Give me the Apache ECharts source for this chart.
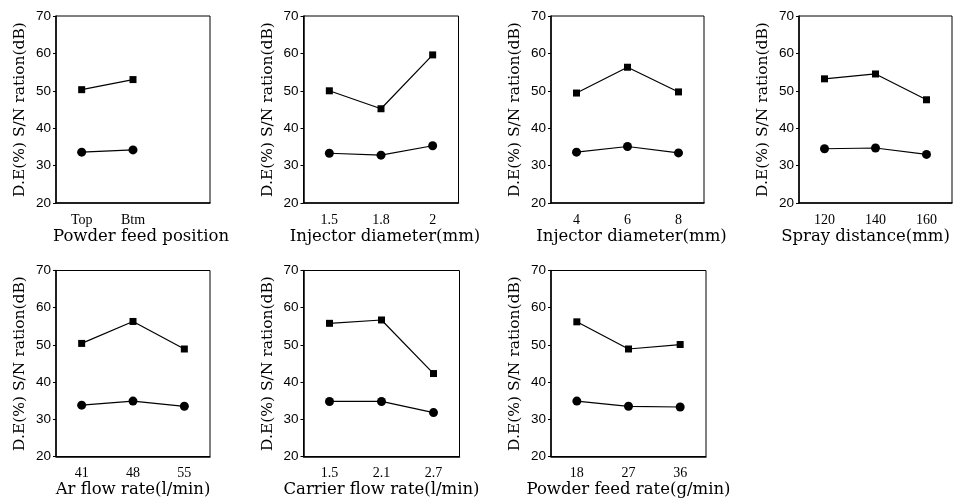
<!DOCTYPE html>
<html>
<head>
<meta charset="utf-8">
<script src="https://cdn.jsdelivr.net/npm/echarts@6/dist/echarts.min.js"></script>
<style>
  html, body { margin: 0; padding: 0; background: #fff; }
  #main { width: 953px; height: 503px; }
</style>
</head>
<body>
<div id="main"></div>
<script>
// 数据
var cats1 = ['Top', 'Btm', ''];
var sq1 = [50.3, 53.0];
var ci1 = [33.6, 34.2];

var cats2 = ['1.5', '1.8', '2'];
var sq2 = [50.0, 45.2, 59.6];
var ci2 = [33.3, 32.8, 35.3];

var cats3 = ['4', '6', '8'];
var sq3 = [49.4, 56.3, 49.7];
var ci3 = [33.6, 35.1, 33.4];

var cats4 = ['120', '140', '160'];
var sq4 = [53.2, 54.5, 47.6];
var ci4 = [34.5, 34.7, 33.0];

var cats5 = ['41', '48', '55'];
var sq5 = [50.4, 56.3, 48.9];
var ci5 = [33.8, 34.9, 33.5];

var cats6 = ['1.5', '2.1', '2.7'];
var sq6 = [55.8, 56.7, 42.3];
var ci6 = [34.8, 34.8, 31.8];

var cats7 = ['18', '27', '36'];
var sq7 = [56.2, 48.9, 50.1];
var ci7 = [34.9, 33.5, 33.3];

var xNames = ['Powder feed position', 'Injector diameter(mm)', 'Injector diameter(mm)',
  'Spray distance(mm)', 'Ar flow rate(l/min)', 'Carrier flow rate(l/min)', 'Powder feed rate(g/min)'];
var yName = 'D.E(%) S/N ration(dB)';
var yTicks = [20, 70, 10]; // min, max, interval

window.onload = function () {
  var myChart = echarts.init(document.getElementById('main'));
  var serif = 'DejaVu Serif';

  // 每个小图的位置 (shift: x轴名称左右偏移)
  var panels = [
    { cats: cats1, sq: sq1, ci: ci1, left: 56, top: 16, width: 154, height: 187, shift: 8 },
    { cats: cats2, sq: sq2, ci: ci2, left: 303.5, top: 16, width: 155, height: 187, shift: 4 },
    { cats: cats3, sq: sq3, ci: ci3, left: 551, top: 16, width: 153, height: 187, shift: 4 },
    { cats: cats4, sq: sq4, ci: ci4, left: 799, top: 16, width: 153, height: 187, shift: -10 },
    { cats: cats5, sq: sq5, ci: ci5, left: 56, top: 270.5, width: 154, height: 186, shift: 0 },
    { cats: cats6, sq: sq6, ci: ci6, left: 303.5, top: 270.5, width: 156, height: 186, shift: 0 },
    { cats: cats7, sq: sq7, ci: ci7, left: 551, top: 270.5, width: 155, height: 186, shift: 0 }
  ];

  var grid = [], xAxis = [], yAxis = [], series = [];
  panels.forEach(function (p, i) {
    grid.push({
      left: p.left, top: p.top, width: p.width, height: p.height,
      outerBoundsMode: 'none', containLabel: false,
      show: true, borderColor: '#000', borderWidth: 1, backgroundColor: 'transparent'
    });
    var pad = p.shift > 0 ? [0, 0, 0, 2 * p.shift] : [0, -2 * p.shift, 0, 0];
    xAxis.push({
      gridIndex: i,
      type: 'category',
      data: p.cats,
      name: xNames[i],
      nameLocation: 'middle',
      nameGap: 24,
      nameTextStyle: { fontFamily: serif, fontSize: 16.5, color: '#000', verticalAlign: 'top', padding: pad },
      axisLine: { lineStyle: { color: '#000', width: 1.5 } },
      axisTick: {
        alignWithLabel: true, length: 4, lineStyle: { color: '#000' },
        interval: function (idx, val) { return val !== ''; }
      },
      axisLabel: { fontFamily: 'Liberation Serif', fontSize: 14, color: '#000', margin: 10 },
      splitLine: { show: false }
    });
    yAxis.push({
      gridIndex: i,
      type: 'value',
      min: yTicks[0], max: yTicks[1], interval: yTicks[2],
      name: yName,
      nameLocation: 'middle',
      nameGap: 28,
      nameTextStyle: { fontFamily: serif, fontSize: 15.5, color: '#000' },
      axisLine: { show: true, lineStyle: { color: '#000', width: 1.5 } },
      axisTick: { show: true, length: 3, lineStyle: { color: '#000' } },
      axisLabel: { fontFamily: 'Liberation Sans', fontSize: 13.5, color: '#000', margin: 5 },
      splitLine: { show: false }
    });
    series.push({
      type: 'line', xAxisIndex: i, yAxisIndex: i, data: p.sq,
      symbol: 'rect', symbolSize: 7, silent: true,
      lineStyle: { color: '#000', width: 1.2 },
      itemStyle: { color: '#000', borderWidth: 0 }
    });
    series.push({
      type: 'line', xAxisIndex: i, yAxisIndex: i, data: p.ci,
      symbol: 'circle', symbolSize: 9, silent: true,
      lineStyle: { color: '#000', width: 1.2 },
      itemStyle: { color: '#000', borderWidth: 0 }
    });
  });

  var option = {
    animation: false,
    backgroundColor: '#fff',
    grid: grid,
    xAxis: xAxis,
    yAxis: yAxis,
    series: series
  };

  myChart.setOption(option);
};
</script>
</body>
</html>
